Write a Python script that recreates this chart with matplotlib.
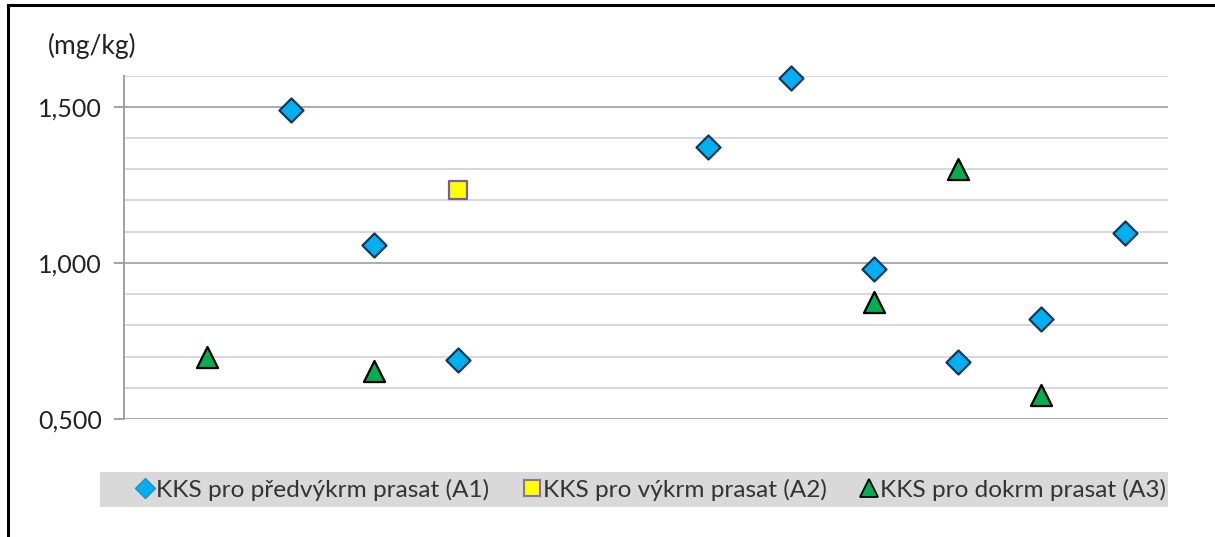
import matplotlib
matplotlib.use('Agg')
from matplotlib import pyplot as plt
from matplotlib.patches import Rectangle
from matplotlib.lines import Line2D

plt.rcParams['font.family'] = ['Lato', 'DejaVu Sans']

# data (x = position of the sample, 1..12)
a1_x = [2, 3, 4, 7, 8, 9, 10, 11, 12]
a1_y = [1.490, 1.058, 0.689, 1.372, 1.593, 0.981, 0.683, 0.821, 1.096]
a2_x = [4]
a2_y = [1.234]
a3_x = [1, 3, 9, 10, 11]
a3_y = [0.699, 0.654, 0.875, 1.301, 0.577]

labels = ['KKS pro předvýkrm prasat (A1)', 'KKS pro výkrm prasat (A2)', 'KKS pro dokrm prasat (A3)']
yticks = [0.5, 1.0, 1.5]
yticklabels = ['0,500', '1,000', '1,500']

W, H = 1215, 537
fig = plt.figure(figsize=(W / 100, H / 100), dpi=100)
ax = fig.add_axes([124 / W, 1 - 419 / H, (1168 - 124) / W, (419 - 75.5) / H])

# gridlines: light every 0.1, darker every 0.5
for v in [0.6, 0.7, 0.8, 0.9, 1.1, 1.2, 1.3, 1.4, 1.6]:
    ax.axhline(v, color='#d4d4d4', lw=1.3, zorder=1)
for v in [0.5, 1.0, 1.5]:
    ax.axhline(v, color='#a6a6a6', lw=1.3, zorder=1)

ax.scatter(a1_x, a1_y, marker='D', s=150, c='#00b0f0', edgecolors='#10385e', linewidths=1.6, zorder=3, clip_on=False)
ax.scatter(a2_x, a2_y, marker='s', s=170, c='#ffff00', edgecolors='#7a5d9c', linewidths=1.6, zorder=3, clip_on=False)
ax.scatter(a3_x, a3_y, marker='^', s=230, c='#00b050', edgecolors='black', linewidths=1.6, zorder=3, clip_on=False)

ax.set_xlim(0, 12.52)
ax.set_ylim(0.5, 1.6)
ax.set_xticks([])
ax.set_yticks(yticks)
ax.set_yticklabels(yticklabels, fontsize=18, color='#222222')
ax.tick_params(axis='y', length=7, color='#9a9a9a', width=1.3, pad=9)
for s in ['top', 'right', 'bottom']:
    ax.spines[s].set_visible(False)
ax.spines['left'].set_color('#9a9a9a')
ax.spines['left'].set_linewidth(1.3)

fig.text(92 / W, 1 - 46 / H, '(mg/kg)', fontsize=19, color='#222222', ha='center', va='center')

# legend band
fig.patches.append(Rectangle((100 / W, 1 - 507 / H), (1168 - 100) / W, 35 / H,
                             transform=fig.transFigure, facecolor='#d9d9d9', edgecolor='none', zorder=0))
handles = [
    Line2D([], [], ls='none', marker='D', ms=10, mfc='#00b0f0', mec='#1f8fd0', mew=1),
    Line2D([], [], ls='none', marker='s', ms=12, mfc='#ffff00', mec='#8a70a8', mew=1.5),
    Line2D([], [], ls='none', marker='^', ms=13, mfc='#00b050', mec='black', mew=1.3),
]
leg = fig.legend(handles, labels, loc='center', bbox_to_anchor=(652 / W, 1 - 490 / H), ncol=3,
                 frameon=False, fontsize=17.6, handlelength=0.6, handletextpad=0.15,
                 columnspacing=1.45, labelcolor='#333333')

# outer frame (clipped on right and bottom)
fig.patches.append(Rectangle((8 / W, -0.2), 1.5, 1.2 - 5 / H, transform=fig.transFigure,
                             facecolor='none', edgecolor='black', lw=2.2, zorder=5))

fig.savefig('out.png', dpi=100)
